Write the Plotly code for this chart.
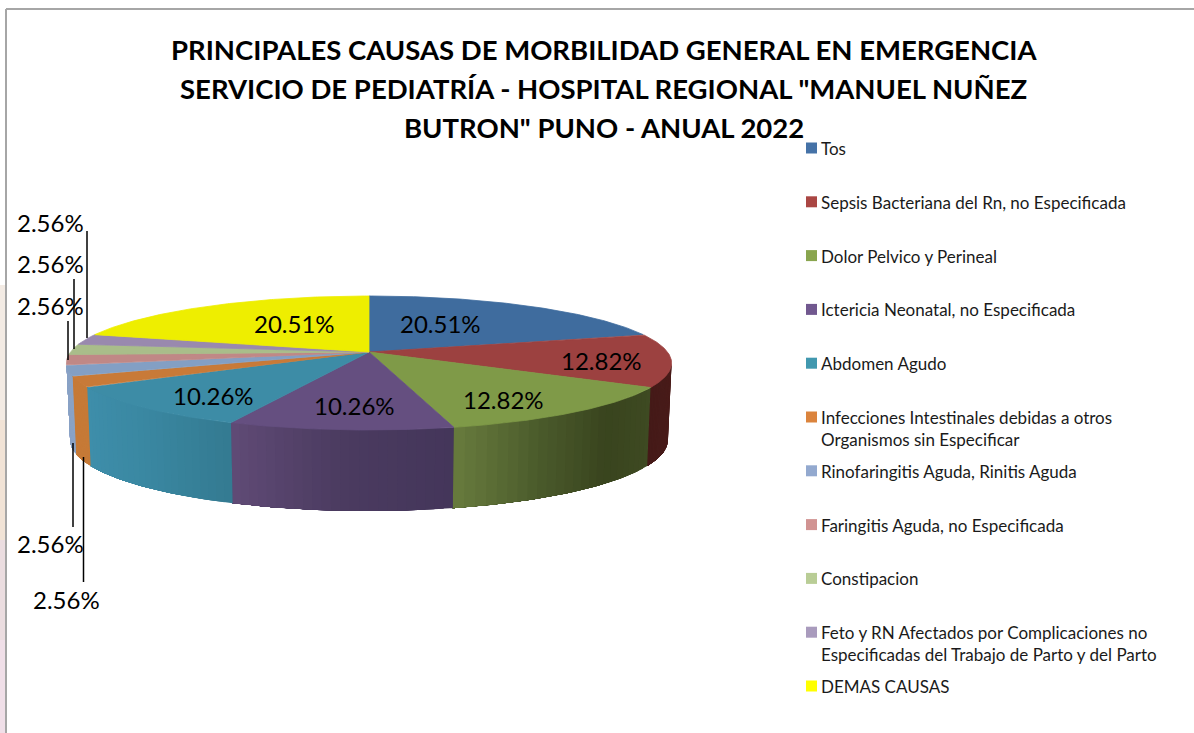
import math
import plotly.graph_objects as go

# ---- data ----
categories = [
    "Tos", "Sepsis Bacteriana del Rn, no Especificada", "Dolor Pelvico y Perineal",
    "Ictericia Neonatal, no Especificada", "Abdomen Agudo",
    "Infecciones Intestinales debidas a otros<br>Organismos sin Especificar",
    "Rinofaringitis Aguda, Rinitis Aguda", "Faringitis Aguda, no Especificada",
    "Constipacion",
    "Feto y RN Afectados por Complicaciones no<br>Especificadas del Trabajo de Parto y del Parto",
    "DEMAS CAUSAS",
]
percentages = [20.51, 12.82, 12.82, 10.26, 10.26, 2.56, 2.56, 2.56, 2.56, 2.56, 20.51]
title_lines = [
    "PRINCIPALES CAUSAS DE MORBILIDAD GENERAL EN EMERGENCIA",
    'SERVICIO DE PEDIATRÍA - HOSPITAL REGIONAL "MANUEL NUÑEZ',
    'BUTRON" PUNO - ANUAL 2022',
]

# ---- style ----
top_colors = ["#3f6c9e", "#9c4140", "#7f9a48", "#654f80", "#3d8ca6", "#c87a38",
              "#839fc4", "#c08886", "#a9bd8a", "#9989ae", "#eeee00"]
legend_colors = ["#4572a7", "#aa4643", "#89a54e", "#71588f", "#4198af", "#db843d",
                 "#93a9cf", "#d19392", "#b9cd96", "#a99bbd", "#ffff00"]
# wall colour stops, from the right-hand end of the wall to the left-hand end
wall_stops = {
    1: ["#4a1c1a", "#451a18"],
    2: ["#3e4a22", "#39441e", "#4a5a2b", "#66793c"],
    3: ["#44365a", "#4b3b60", "#5f4a75"],
    4: ["#347b92", "#3a88a2", "#3e8eaa"],
    5: ["#c67a37", "#c67a37"],
    6: ["#8aa3c6", "#8aa3c6"],
}
FONT = "Lato, Carlito, sans-serif"
W, H = 1194, 733
CX, CY, K, B, A = 369, 352, 298.5, 65.2, 0.164   # projection of the pie
STRIPS = 24

# label layout: centre of each percentage label, and its leader line (x, y0, y1)
label_pos = [(440, 323), (601, 360), (503, 399), (354, 405), (213, 395),
             (66, 599), (50, 543), (50, 305), (50, 263), (50, 222), (294, 323)]
leaders = [(83.5, 457, 582), (73, 443, 527), (68, 321, 360), (74, 279, 349), (87, 231, 338)]
legend_first_y = 148
legend_step = 53.8


def top_pt(theta):
    u, v = math.sin(theta), -math.cos(theta)
    d = 1 - A * v
    return CX + K * u / d, CY + B * v / d


def bottom_pt(theta):
    x, y = top_pt(theta)
    v = -math.cos(theta)
    return CX + 0.988 * (x - CX), y + 76 + 5 * v


def arc(f, a, b, step=math.radians(0.5)):
    n = max(2, int(abs(b - a) / step) + 1)
    return [f(a + (b - a) * i / (n - 1)) for i in range(n)]


def rgb(h):
    return [int(h[i:i + 2], 16) for i in (1, 3, 5)]


def mix(stops, t):
    t = min(max(t, 0), 1) * (len(stops) - 1)
    i = min(int(t), len(stops) - 2)
    f = t - i
    a, b = rgb(stops[i]), rgb(stops[i + 1])
    return "rgb(%d,%d,%d)" % tuple(round(a[c] + (b[c] - a[c]) * f) for c in range(3))


total = sum(percentages)
edges = [0.0]
for p in percentages:
    edges.append(edges[-1] + p / total * 2 * math.pi)

# silhouette of the drum: the walls only exist between the horizontal extremes
grid = [math.radians(i / 4) for i in range(4 * 360)]
theta_right = max(grid, key=lambda t: top_pt(t)[0])
theta_left = min(grid, key=lambda t: top_pt(t)[0])

fig = go.Figure()


def poly(points, color, width=0.8):
    fig.add_trace(go.Scatter(
        x=[p[0] for p in points], y=[p[1] for p in points], mode="lines",
        fill="toself", fillcolor=color, line=dict(color=color, width=width),
        showlegend=False, hoverinfo="skip"))


# walls: each strip runs to the far end of its wall and the next strip paints over it
for i, stops in wall_stops.items():
    a = max(edges[i], theta_right)
    b = min(edges[i + 1], theta_left)
    if b <= a:
        continue
    for s in range(STRIPS):
        t0 = a + (b - a) * s / STRIPS
        pts = arc(top_pt, t0, b) + arc(bottom_pt, b, t0)
        poly(pts + pts[:1], mix(stops, s / (STRIPS - 1)), width=0)

# top faces
for i in range(len(percentages)):
    pts = [(CX, CY)] + arc(top_pt, edges[i], edges[i + 1]) + [(CX, CY)]
    poly(pts, top_colors[i])

# leader lines
for x, y0, y1 in leaders:
    fig.add_trace(go.Scatter(x=[x, x], y=[y0, y1], mode="lines",
                             line=dict(color="#000000", width=1.5),
                             showlegend=False, hoverinfo="skip"))

# legend swatches
fig.add_trace(go.Scatter(
    x=[811.5] * len(categories),
    y=[legend_first_y + legend_step * i for i in range(len(categories))],
    mode="markers", marker=dict(symbol="square", size=11, color=legend_colors, line=dict(width=0)),
    showlegend=False, hoverinfo="skip"))

annotations = []
for i, line in enumerate(title_lines):
    annotations.append(dict(x=603.5, y=49 + 39 * i, text=f"<b>{line}</b>", showarrow=False,
                            xanchor="center", yanchor="middle",
                            font=dict(family=FONT, size=27.5, color="#000000")))
for i, name in enumerate(categories):
    annotations.append(dict(x=819, y=legend_first_y - 12 + legend_step * i, text=name, showarrow=False,
                            xanchor="left", yanchor="top", align="left",
                            font=dict(family=FONT, size=17, color="#1a1a1a")))
for p, (x, y) in zip(percentages, label_pos):
    annotations.append(dict(x=x, y=y, text=f"{p:.2f}%", showarrow=False,
                            xanchor="center", yanchor="middle",
                            font=dict(family=FONT, size=24, color="#000000")))

shapes = [
    dict(type="line", x0=6, x1=6, y0=9, y1=H, line=dict(color="#a6a6a6", width=2)),
    dict(type="line", x0=6, x1=W, y0=9, y1=9, line=dict(color="#a6a6a6", width=2)),
]
# faded backdrop picture visible along the left edge
for y0, y1, c in [(285, 420, "#f3ebe4"), (420, 540, "#f1e3d6"), (540, 640, "#ebdde0"), (640, 733, "#f0dfe8")]:
    shapes.append(dict(type="rect", x0=0, x1=5, y0=y0, y1=y1, fillcolor=c, line=dict(width=0), layer="below"))

fig.update_layout(
    width=W, height=H, autosize=False, margin=dict(l=0, r=0, t=0, b=0),
    paper_bgcolor="#ffffff", plot_bgcolor="#ffffff", showlegend=False,
    xaxis=dict(range=[0, W], visible=False, fixedrange=True),
    yaxis=dict(range=[H, 0], visible=False, fixedrange=True),
    annotations=annotations, shapes=shapes,
)
fig.write_html("out.html", config={"displayModeBar": False},
               post_script="document.body.style.margin='0';document.body.style.overflow='hidden';")
